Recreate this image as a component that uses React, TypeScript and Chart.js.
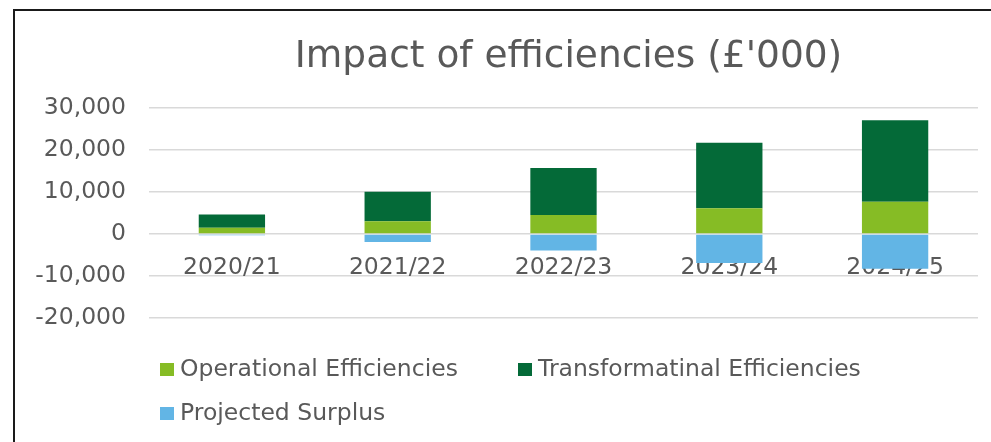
import React, { useEffect, useRef } from 'react';
import { Chart, registerables } from 'chart.js';

Chart.register(...registerables);

const chartTitle = "Impact of efficiencies (£'000)";
const categories = ['2020/21', '2021/22', '2022/23', '2023/24', '2024/25'];
const operational = [1500, 3050, 4550, 6150, 7700];
const transformational = [3150, 7000, 11150, 15550, 19400];
const projectedSurplus = [-300, -1900, -3900, -6900, -8300];
const yTicks = [-20000, -10000, 0, 10000, 20000, 30000];
const seriesNames = ['Operational Efficiencies', 'Transformatinal Efficiencies', 'Projected Surplus'];
const seriesColors = ['#86BC25', '#046A38', '#62B5E5'];

const FONT = "'DejaVu Sans', Verdana, sans-serif";
const TEXT = '#595959';

export default function App() {
  const ref = useRef<HTMLCanvasElement>(null);

  useEffect(() => {
    const seriesData = [operational, transformational, projectedSurplus];
    const chart = new Chart(ref.current as HTMLCanvasElement, {
      type: 'bar',
      data: {
        labels: categories,
        datasets: seriesNames.map((name, i) => ({
          label: name,
          data: seriesData[i],
          backgroundColor: seriesColors[i],
          borderWidth: 0,
        })),
      },
      options: {
        responsive: false,
        animation: false,
        layout: { padding: { left: 20, right: 20, bottom: 124, top: 0 } },
        datasets: { bar: { categoryPercentage: 1, barPercentage: 0.4 } },
        plugins: {
          legend: { display: false },
          tooltip: { enabled: false },
          title: {
            display: true,
            text: chartTitle,
            color: TEXT,
            font: { family: FONT, size: 37.5, weight: 'normal', lineHeight: 1.2 },
            padding: { top: 24, bottom: 28 },
          },
        },
        scales: {
          x: {
            stacked: true,
            position: { y: 0 },
            z: 1,
            grid: { display: false },
            border: { display: false },
            ticks: {
              color: TEXT,
              font: { family: FONT, size: 23.5 },
              padding: 12,
              maxRotation: 0,
              autoSkip: false,
            },
          },
          y: {
            stacked: true,
            min: -20000,
            max: 30000,
            afterBuildTicks: (s: any) => {
              s.ticks = yTicks.map((v) => ({ value: v }));
            },
            afterFit: (s: any) => {
              s.width = 114;
            },
            grid: { color: '#D9D9D9', lineWidth: 1.5, drawTicks: false },
            border: { display: false },
            ticks: {
              color: TEXT,
              padding: 23,
              font: { family: FONT, size: 23.5 },
              callback: (v: any) => Number(v).toLocaleString('en-US'),
            },
          },
          spacer: {
            type: 'linear',
            axis: 'y',
            position: 'right',
            display: true,
            grid: { display: false, drawTicks: false },
            border: { display: false },
            ticks: { display: false },
            afterFit: (s: any) => {
              s.width = 124;
            },
          },
        },
      } as any,
    });
    return () => chart.destroy();
  }, []);

  return (
    <div
      style={{
        position: 'absolute',
        left: 13,
        top: 9,
        width: 978,
        height: 433,
        overflow: 'hidden',
        borderLeft: '2px solid #1a1a1a',
        borderTop: '2px solid #1a1a1a',
        background: '#fff',
      }}
    >
      <canvas ref={ref} width={1107} height={431} style={{ position: 'absolute', left: 0, top: 0 }} />
      <div
        style={{
          position: 'absolute',
          left: 145,
          top: 336,
          display: 'grid',
          gridTemplateColumns: '358px auto',
          gridAutoRows: '44px',
        }}
      >
        {seriesNames.map((name, i) => (
          <div key={name} style={{ display: 'flex', alignItems: 'center', whiteSpace: 'nowrap' }}>
            <span
              style={{
                display: 'inline-block',
                width: 14,
                height: 13,
                background: seriesColors[i],
                marginRight: 6,
              }}
            />
            <span style={{ fontFamily: FONT, fontSize: 23.5, color: TEXT, lineHeight: 1 }}>{name}</span>
          </div>
        ))}
      </div>
    </div>
  );
}
